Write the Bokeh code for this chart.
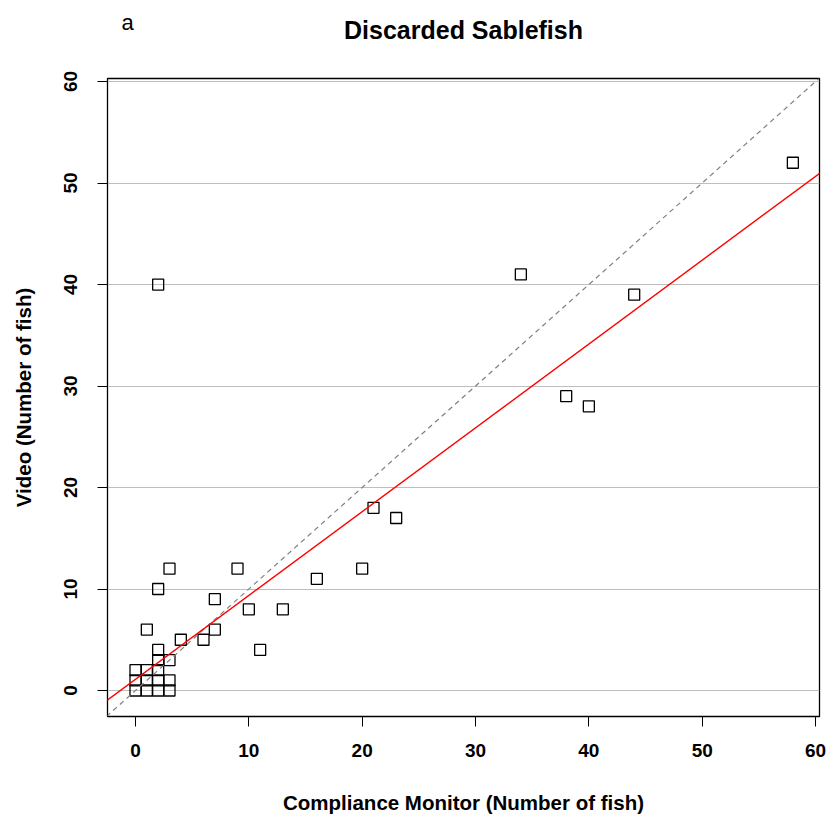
from bokeh.plotting import figure
from bokeh.models import Slope, Title, FixedTicker, Range1d
from bokeh.embed import file_html
from bokeh.resources import INLINE

# Data
monitor = [58, 34, 44, 38, 40, 2, 21, 23, 16, 20, 9, 3, 2, 7, 10, 13, 1, 4, 6, 7, 11, 3,
           0, 0, 0, 1, 1, 1, 2, 2, 2, 2, 2, 3, 3]
video = [52, 41, 39, 29, 28, 40, 18, 17, 11, 12, 12, 12, 10, 9, 8, 8, 6, 5, 5, 6, 4, 3,
         0, 1, 2, 0, 1, 2, 0, 1, 2, 3, 4, 0, 1]
tick_values = [0, 10, 20, 30, 40, 50, 60]
fit_slope = 0.826
fit_intercept = 1.1

FONT = "Liberation Sans"

p = figure(width=829, height=816, output_backend="svg", toolbar_location=None,
           x_range=Range1d(-2.47, 60.35), y_range=Range1d(-2.56, 60.3),
           min_border_left=107, min_border_right=10, min_border_top=78,
           min_border_bottom=99)
p.title = None

# trailing newline lifts the title line away from the frame without enlarging the panel much
main_title = Title(text="Discarded Sablefish\n", align="center", standoff=13,
                   text_font=FONT, text_font_size="25px", text_font_style="bold",
                   text_color="black")
p.add_layout(main_title, "above")
panel_tag = Title(text="a", align="left", offset=14, standoff=-54,
                  text_font=FONT, text_font_size="22px",
                  text_font_style="normal", text_color="black")
p.add_layout(panel_tag, "above")

p.outline_line_color = "black"
p.outline_line_width = 1.3
p.background_fill_color = "white"
p.border_fill_color = "white"

p.xgrid.visible = False
p.ygrid.grid_line_color = "#BEBEBE"
p.ygrid.grid_line_width = 1.2

for ax in (p.xaxis[0], p.yaxis[0]):
    ax.ticker = FixedTicker(ticks=tick_values)
    ax.minor_tick_line_color = None
    ax.major_tick_in = 0
    ax.major_tick_out = 10
    ax.major_tick_line_color = "black"
    ax.axis_line_color = "black"
    ax.major_label_text_font = FONT
    ax.major_label_text_font_size = "19px"
    ax.major_label_text_font_style = "bold"
    ax.major_label_text_color = "black"
    ax.axis_label_text_font = FONT
    ax.axis_label_text_font_size = "20.5px"
    ax.axis_label_text_font_style = "bold"
    ax.axis_label_text_color = "black"

p.xaxis.axis_label = "Compliance Monitor (Number of fish)"
p.yaxis.axis_label = "Video (Number of fish)"
p.xaxis.major_label_standoff = 17
p.xaxis.axis_label_standoff = 31
p.yaxis.major_label_orientation = "vertical"
p.yaxis.major_label_standoff = 20
p.yaxis.axis_label_standoff = 27

p.add_layout(Slope(gradient=1, y_intercept=0, line_color="#7F7F7F",
                   line_dash="5 4", line_width=1.2))
p.add_layout(Slope(gradient=fit_slope, y_intercept=fit_intercept,
                   line_color="red", line_width=1.4))

p.scatter(monitor, video, marker="square", size=11, fill_color=None,
          line_color="black", line_width=1.3)

open("out.html", "w").write(file_html(p, INLINE))
